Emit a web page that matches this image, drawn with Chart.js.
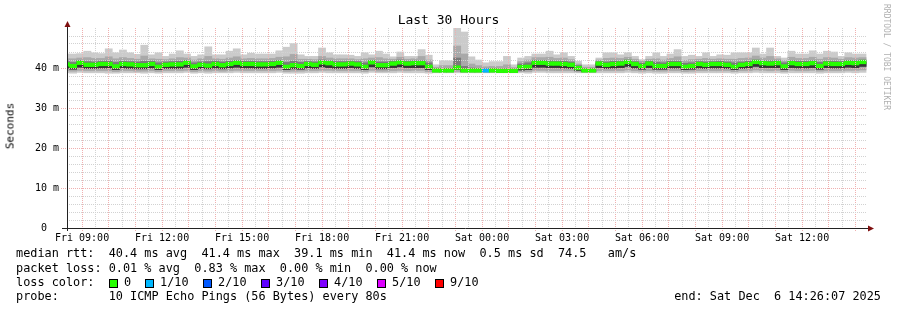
<!DOCTYPE html>
<html>
<head>
<meta charset="utf-8">
<script src="https://cdn.jsdelivr.net/npm/chart.js@4.4.1/dist/chart.umd.min.js"></script>
<style>
  body { margin: 0; background: #fff; }
  #wrap { position: relative; width: 897px; height: 310px; overflow: hidden;
          font-family: 'DejaVu Sans Mono', monospace; color: #000; }
  #chart { position: absolute; left: 0; top: 0; }
  .t { position: absolute; white-space: pre; line-height: 1; }
  .leg { font-size: 11.85px; }
  .box { position: absolute; width: 7px; height: 7px; border: 1px solid #000; }
</style>
</head>
<body>
<div id="wrap">
  <canvas id="chart" width="897" height="310"></canvas>
  <div class="t" style="left:0;width:897px;text-align:center;top:13px;font-size:13px;">Last 30 Hours</div>
  <div class="t" style="left:10px;top:126px;font-size:11px;color:#000;transform:translate(-50%,-50%) rotate(-90deg);">Seconds</div>
  <div class="t" style="left:882px;top:4px;font-size:8px;color:#b0b0b0;writing-mode:vertical-rl;">RRDTOOL / TOBI OETIKER</div>
  <div id="legend"></div>
</div>
<script>
// Smokeping 30 Stunden, 16-Minuten-Schritte (113 Schritte)
const START_MIN = 8 * 60 + 26 + 7 / 60;   // Fri 08:26:07
const END_MIN = START_MIN + 30 * 60;       // Sat 14:26:07
const STEP_MIN = 16;
const FIRST_STEP_MID = 8 * 60 + 24;        // Schritt 08:16-08:32

const xTickLabels = ['Fri 09:00', 'Fri 12:00', 'Fri 15:00', 'Fri 18:00', 'Fri 21:00',
                     'Sat 00:00', 'Sat 03:00', 'Sat 06:00', 'Sat 09:00', 'Sat 12:00'];
const yTickLabels = ['0  ', '10 m', '20 m', '30 m', '40 m'];

// Median RTT (ms)
const median = [
  40.9,40.5,41.3,40.8,40.8,41.0,41.0,40.4,41.0,40.9,
  40.7,40.7,41.0,40.3,40.8,40.9,40.9,41.3,40.4,40.8,
  40.6,41.0,40.7,41.0,41.3,41.0,41.0,40.9,40.9,41.0,
  41.3,40.3,40.7,40.5,41.0,40.8,41.4,41.2,40.9,40.9,
  41.1,40.9,40.3,41.4,40.7,40.7,41.1,41.4,41.1,41.2,
  41.2,40.3,39.4,39.4,39.4,40.1,39.4,39.4,39.4,39.4,
  39.4,39.3,39.3,39.3,40.2,40.3,41.3,41.3,41.1,41.1,
  41.0,40.8,40.0,39.4,39.4,41.1,40.8,41.0,41.1,41.5,
  41.0,40.5,41.1,40.5,40.5,41.0,41.0,40.3,40.5,41.0,
  40.8,41.0,41.0,40.8,40.3,40.8,41.0,41.5,41.2,41.1,
  41.2,40.4,41.2,41.0,41.0,41.2,40.5,41.1,41.0,41.0,
  41.3,41.2,41.5];

// Rauch: äußere bis innere Ping-Bänder (ms)
const smokeMax = [
  43.5,43.5,43.6,44.2,43.8,43.6,44.8,43.8,44.5,43.8,
  43.4,45.7,43.3,43.8,42.9,43.5,44.3,43.5,42.9,43.3,
  45.3,43.3,43.3,44.2,44.8,43.3,43.7,43.5,43.5,43.5,
  44.3,45.2,46.1,43.3,42.9,42.9,45.0,43.8,43.3,43.3,
  43.2,42.9,43.8,43.3,44.2,43.5,42.8,44.0,42.9,42.9,
  44.6,43.2,40.8,41.8,41.8,50.0,49.0,42.8,42.0,41.3,
  41.6,41.6,42.9,40.8,42.5,42.9,43.5,43.5,44.2,43.3,
  43.8,42.9,41.7,40.8,40.8,42.5,43.8,43.8,43.3,43.8,
  42.9,42.1,42.9,43.8,42.9,43.5,44.6,42.9,43.2,42.9,
  43.8,42.9,43.3,43.2,43.8,43.8,43.8,45.0,43.5,45.0,
  42.9,42.5,44.2,43.5,43.5,44.3,43.5,44.2,44.0,42.9,
  43.8,43.5,43.5];
const smokeHi2 = [
  42.3,42.3,42.5,42.6,42.4,42.4,42.8,42.3,42.6,42.4,
  42.2,43.0,42.3,42.2,42.1,42.3,42.6,42.5,42.0,42.3,
  42.9,42.3,42.2,42.5,42.8,42.3,42.4,42.3,42.3,42.4,
  42.7,42.8,43.4,42.2,42.2,42.1,42.9,42.5,42.3,42.3,
  42.3,42.1,42.3,42.5,42.6,42.3,42.2,42.7,42.2,42.3,
  42.9,42.0,40.2,40.6,40.6,45.5,43.5,41.0,40.6,40.3,
  40.4,40.4,40.8,40.1,41.6,42.0,42.6,42.6,42.7,42.4,
  42.5,42.1,41.0,40.2,40.2,42.0,42.4,42.5,42.4,42.7,
  42.2,41.7,42.2,42.3,42.0,42.4,42.8,41.9,42.1,42.2,
  42.4,42.2,42.3,42.2,42.2,42.4,42.5,43.0,42.5,42.9,
  42.3,41.8,42.7,42.4,42.4,42.7,42.2,42.6,42.5,42.2,
  42.6,42.5,42.6];
const smokeHi3 = [
  41.6,41.4,41.9,41.6,41.5,41.7,41.8,41.4,41.7,41.6,
  41.5,41.7,41.7,41.3,41.5,41.6,41.7,41.9,41.3,41.5,
  41.6,41.7,41.5,41.7,41.9,41.7,41.7,41.6,41.6,41.7,
  41.9,41.4,41.7,41.4,41.6,41.5,42.0,41.8,41.6,41.6,
  41.7,41.6,41.3,41.9,41.5,41.5,41.7,42.0,41.7,41.8,
  41.8,41.3,39.8,39.9,39.9,42.5,40.4,40.0,39.9,39.8,
  39.8,39.7,39.8,39.7,41.0,41.3,41.9,41.9,41.8,41.7,
  41.7,41.5,40.6,39.8,39.8,41.6,41.5,41.7,41.7,42.0,
  41.6,41.2,41.7,41.4,41.3,41.7,41.7,41.2,41.3,41.6,
  41.5,41.6,41.7,41.5,41.3,41.5,41.7,42.0,41.8,41.8,
  41.8,41.3,41.8,41.7,41.7,41.8,41.4,41.7,41.7,41.6,
  41.9,41.8,42.0];
const smokeLo3 = [
  40.0,39.7,40.2,39.9,39.9,40.0,40.0,39.6,40.0,39.9,
  39.8,39.8,40.0,39.6,39.9,39.9,39.9,40.2,39.6,39.9,
  39.8,40.0,39.8,40.0,40.2,40.0,40.0,39.9,39.9,40.0,
  40.2,39.6,39.8,39.7,40.0,39.9,40.3,40.1,39.9,39.9,
  40.1,39.9,39.6,40.3,39.8,39.8,40.1,40.3,40.1,40.1,
  40.1,39.6,39.1,39.1,39.1,39.6,39.1,39.1,39.1,39.1,
  39.1,39.0,39.0,39.0,39.5,39.6,40.2,40.2,40.1,40.1,
  40.0,39.9,39.4,39.1,39.1,40.1,39.9,40.0,40.1,40.4,
  40.0,39.7,40.1,39.7,39.7,40.0,40.0,39.6,39.7,40.0,
  39.9,40.0,40.0,39.9,39.6,39.9,40.0,40.4,40.1,40.1,
  40.1,39.6,40.1,40.0,40.0,40.1,39.7,40.1,40.0,40.0,
  40.2,40.1,40.4];
const smokeLo2 = [
  39.3,39.2,39.4,39.3,39.3,39.3,39.3,39.1,39.3,39.3,
  39.2,39.2,39.3,39.1,39.3,39.3,39.3,39.4,39.1,39.3,
  39.2,39.3,39.2,39.3,39.4,39.3,39.3,39.3,39.3,39.3,
  39.4,39.1,39.2,39.2,39.3,39.3,39.4,39.4,39.3,39.3,
  39.3,39.3,39.1,39.4,39.2,39.2,39.3,39.4,39.3,39.4,
  39.4,39.1,38.9,38.9,38.9,39.1,38.9,38.9,38.9,38.9,
  38.9,38.9,38.9,38.9,39.1,39.1,39.4,39.4,39.3,39.3,
  39.3,39.3,39.0,38.9,38.9,39.3,39.3,39.3,39.3,39.5,
  39.3,39.2,39.3,39.2,39.2,39.3,39.3,39.1,39.2,39.3,
  39.3,39.3,39.3,39.3,39.1,39.3,39.3,39.5,39.4,39.3,
  39.4,39.1,39.4,39.3,39.3,39.4,39.2,39.3,39.3,39.3,
  39.4,39.4,39.5];
const smokeMin = [
  38.8,38.7,38.9,38.8,38.8,38.8,38.7,38.7,38.8,38.8,
  38.8,38.7,38.8,38.7,38.8,38.8,38.8,38.9,38.7,38.8,
  38.7,38.8,38.8,38.8,38.9,38.8,38.8,38.8,38.8,38.8,
  38.9,38.7,38.7,38.7,38.8,38.8,38.9,38.8,38.8,38.8,
  38.8,38.8,38.7,38.9,38.8,38.8,38.8,38.9,38.8,38.8,
  38.8,38.7,38.8,38.8,38.8,38.8,38.8,38.8,38.8,38.8,
  38.8,38.8,38.8,38.8,38.8,38.7,38.9,38.9,38.8,38.8,
  38.8,38.8,38.8,38.8,38.8,38.8,38.8,38.8,38.8,38.9,
  38.8,38.7,38.8,38.7,38.7,38.8,38.8,38.7,38.7,38.8,
  38.8,38.8,38.8,38.8,38.7,38.8,38.8,38.9,38.8,38.8,
  38.8,38.7,38.8,38.8,38.8,38.8,38.7,38.8,38.8,38.8,
  38.9,38.8,38.9];

// Paketverlust pro Schritt (Zehntel)
const lossTenths = [
  0,0,0,0,0,0,0,0,0,0, 0,0,0,0,0,0,0,0,0,0,
  0,0,0,0,0,0,0,0,0,0, 0,0,0,0,0,0,0,0,0,0,
  0,0,0,0,0,0,0,0,0,0, 0,0,0,0,0,0,0,0,0,1,
  0,0,0,0,0,0,0,0,0,0, 0,0,0,0,0,0,0,0,0,0,
  0,0,0,0,0,0,0,0,0,0, 0,0,0,0,0,0,0,0,0,0,
  0,0,0,0,0,0,0,0,0,0, 0,0,0];

const lossLabels = ['0', '1/10', '2/10', '3/10', '4/10', '5/10', '9/10'];
const lossColors = ['#26ff00', '#00b8ff', '#0059ff', '#5e00ff', '#7e00ff', '#dd00ff', '#ff0000'];
const lossColorByTenth = { 0: '#26ff00', 1: '#00b8ff', 2: '#0059ff', 3: '#5e00ff', 4: '#7e00ff', 5: '#dd00ff', 9: '#ff0000' };

const GRID = '#d2d2d2';
const MGRID = '#f0b0b0';
const NONE = 'rgba(0,0,0,0)';
const MEDIAN_HALF = 0.45;   // halbe Dicke der Medianlinie in ms

const stepX = median.map((_, i) => FIRST_STEP_MID + i * STEP_MIN);

function band(lo, hi) {
  return stepX.map((x, i) => ({ x: x, y: [lo[i], hi[i]] }));
}

function smokeSet(lo, hi, color, order) {
  return {
    data: band(lo, hi),
    backgroundColor: color,
    borderWidth: 0,
    barPercentage: 1,
    categoryPercentage: 1,
    grouped: false,
    order: order
  };
}

const medianBand = stepX.map((x, i) => ({ x: x, y: [median[i] - MEDIAN_HALF, median[i] + MEDIAN_HALF] }));

const xTickValues = [];
for (let m = 9 * 60; m < END_MIN; m += 30) xTickValues.push(m);

function tickVal(c) {
  return c && c.tick ? c.tick.value : null;
}

// Achsen mit Pfeilen wie bei rrdtool
const axesPlugin = {
  id: 'rrdAxes',
  afterDraw(chart) {
    const { ctx, chartArea: a } = chart;
    ctx.save();
    ctx.strokeStyle = '#222';
    ctx.lineWidth = 1;
    ctx.beginPath();
    ctx.moveTo(a.left - 5, a.bottom + 0.5);
    ctx.lineTo(a.right + 2, a.bottom + 0.5);
    ctx.moveTo(a.left + 0.5, a.bottom + 3);
    ctx.lineTo(a.left + 0.5, a.top - 4);
    ctx.stroke();
    ctx.fillStyle = '#7f1010';
    ctx.beginPath();
    ctx.moveTo(a.right + 7, a.bottom + 0.5);
    ctx.lineTo(a.right + 1, a.bottom - 2.5);
    ctx.lineTo(a.right + 1, a.bottom + 3.5);
    ctx.closePath();
    ctx.fill();
    ctx.beginPath();
    ctx.moveTo(a.left + 0.5, a.top - 7);
    ctx.lineTo(a.left - 2.5, a.top - 1);
    ctx.lineTo(a.left + 3.5, a.top - 1);
    ctx.closePath();
    ctx.fill();
    ctx.restore();
  }
};

try {
new Chart(document.getElementById('chart'), {
  type: 'bar',
  data: {
    datasets: [
      smokeSet(smokeMin, smokeMax, '#cbcbcb', 6),
      smokeSet(smokeLo2, smokeHi2, '#a9a9a9', 5),
      smokeSet(smokeLo3, smokeHi3, '#7a7a7a', 4),
      smokeSet(smokeLo3, median, '#353535', 3),
      {
        data: medianBand,
        backgroundColor: lossTenths.map(l => lossColorByTenth[l]),
        borderWidth: 0,
        barPercentage: 1,
        categoryPercentage: 1,
        grouped: false,
        order: 1
      }
    ]
  },
  options: {
    responsive: false,
    animation: false,
    events: [],
    devicePixelRatio: 1,
    layout: { padding: { left: 0, right: 30, top: 28, bottom: 62 } },
    plugins: { legend: { display: false }, tooltip: { enabled: false }, title: { display: false } },
    scales: {
      x: {
        type: 'linear',
        offset: false,
        min: START_MIN,
        max: END_MIN,
        afterFit: s => { s.height = 20; s.paddingLeft = 0; s.paddingRight = 0; },
        afterBuildTicks: s => { s.ticks = xTickValues.map(v => ({ value: v })); },
        ticks: {
          autoSkip: false,
          maxRotation: 0,
          padding: 0,
          color: '#000',
          font: { family: 'DejaVu Sans Mono', size: 10 },
          callback: v => ((v - 540) % 180 === 0 ? xTickLabels[(v - 540) / 180] : '')
        },
        grid: {
          z: 1,
          offset: false,
          color: c => {
            const v = tickVal(c);
            if (v === null) return NONE;
            return (v - 540) % 60 === 0 ? MGRID : GRID;
          },
          tickColor: c => {
            const v = tickVal(c);
            return v !== null && (v - 540) % 60 === 0 ? MGRID : NONE;
          },
          tickLength: 4,
          tickBorderDash: [1, 1]
        },
        border: { display: false, dash: [1, 1] }
      },
      y: {
        min: 0,
        max: 50,
        afterFit: s => { s.width = 67; },
        ticks: {
          stepSize: 2,
          autoSkip: false,
          padding: 2,
          color: '#000',
          font: { family: 'DejaVu Sans Mono', size: 10 },
          callback: v => (v % 10 === 0 && v < 50 ? yTickLabels[v / 10] : '')
        },
        grid: {
          z: 1,
          color: c => {
            const v = tickVal(c);
            if (v === null || v === 0 || v === 50) return NONE;
            return v % 10 === 0 ? MGRID : GRID;
          },
          tickColor: c => {
            const v = tickVal(c);
            return v !== null && v % 10 === 0 && v > 0 && v < 50 ? MGRID : NONE;
          },
          tickLength: 6,
          tickBorderDash: [1, 1]
        },
        border: { display: false, dash: [1, 1] }
      }
    }
  },
  plugins: [axesPlugin]
});
} catch (e) {
  console.error('Diagrammfehler:', e);
}

// Legende unter dem Diagramm
const legend = document.getElementById('legend');
function addText(txt, left, top, extra) {
  const d = document.createElement('div');
  d.className = 't leg';
  d.style.left = left + 'px';
  d.style.top = top + 'px';
  if (extra) Object.assign(d.style, extra);
  d.textContent = txt;
  legend.appendChild(d);
}
addText('median rtt:  40.4 ms avg  41.4 ms max  39.1 ms min  41.4 ms now  0.5 ms sd  74.5   am/s', 16, 248);
addText('packet loss: 0.01 % avg  0.83 % max  0.00 % min  0.00 % now', 16, 262.5);
addText('loss color:', 16, 276.8);
addText('probe:       10 ICMP Echo Pings (56 Bytes) every 80s', 16, 291);
addText('end: Sat Dec  6 14:26:07 2025', 0, 291, { left: 'auto', right: '16px' });

const boxX = [109, 145, 203, 261, 319, 377, 435];
lossLabels.forEach((lab, i) => {
  const b = document.createElement('div');
  b.className = 'box';
  b.style.left = boxX[i] + 'px';
  b.style.top = '279px';
  b.style.background = lossColors[i];
  legend.appendChild(b);
  addText(lab, boxX[i] + 15, 276.8);
});
</script>
</body>
</html>
